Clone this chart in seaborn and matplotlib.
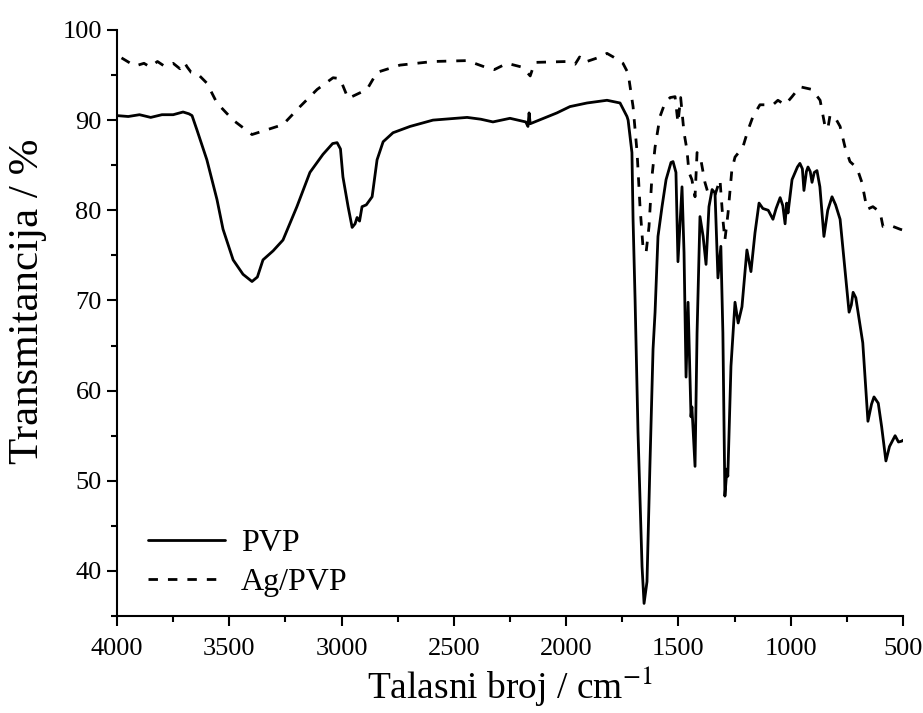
import numpy as np
import pandas as pd
import matplotlib
matplotlib.use("Agg")
import matplotlib.pyplot as plt
from matplotlib.ticker import MultipleLocator
import seaborn as sns

# ---- data ----
pvp_wn = [4000, 3950, 3900, 3850, 3800, 3750, 3706, 3680, 3666, 3644, 3600, 3555, 3528, 3483,
          3439, 3399, 3375, 3350, 3305, 3261, 3199, 3141, 3083, 3040, 3020, 3005, 2994, 2971,
          2953, 2940, 2931, 2920, 2909, 2890, 2864, 2842, 2815, 2771, 2695, 2593, 2441, 2380,
          2326, 2250, 2180, 2170, 2165, 2160, 2100, 2041, 1983, 1907, 1818, 1760, 1729, 1724,
          1707, 1702, 1693, 1680, 1662, 1653, 1640, 1627, 1613, 1604, 1591, 1573, 1555, 1533,
          1524, 1511, 1502, 1484, 1475, 1466, 1457, 1444, 1440, 1426, 1417, 1404, 1390, 1377,
          1364, 1350, 1337, 1324, 1311, 1302, 1293, 1284, 1280, 1266, 1248, 1234, 1217, 1195,
          1177, 1159, 1141, 1124, 1100, 1079, 1065, 1047, 1035, 1025, 1018, 1012, 994, 970,
          959, 948, 941, 930, 923, 913, 905, 895, 883, 870, 852, 835, 816, 800, 780, 758, 740,
          730, 722, 710, 700, 679, 656, 640, 629, 610, 595, 576, 560, 535, 520, 505, 500]
pvp_t = [90.5, 90.4, 90.6, 90.3, 90.6, 90.6, 90.9, 90.7, 90.5, 88.9, 85.6, 81.2, 77.9, 74.5,
         72.9, 72.1, 72.6, 74.5, 75.5, 76.7, 80.4, 84.2, 86.2, 87.4, 87.5, 86.8, 83.7, 80.4,
         78.1, 78.5, 79.2, 78.8, 80.4, 80.6, 81.5, 85.6, 87.6, 88.6, 89.3, 90.0, 90.3, 90.1,
         89.8, 90.2, 89.8, 89.3, 90.8, 89.6, 90.2, 90.8, 91.5, 91.9, 92.2, 91.9, 90.4, 90.0,
         86.4, 79.0, 70.1, 55.4, 40.5, 36.4, 38.8, 51.6, 64.6, 68.7, 77.1, 80.4, 83.4, 85.3,
         85.4, 84.2, 74.3, 82.6, 75.3, 61.5, 69.8, 57.1, 58.2, 51.6, 66.4, 79.3, 77.1, 74.0,
         80.4, 82.3, 81.9, 72.5, 76.0, 66.4, 48.3, 51.3, 50.5, 62.7, 69.8, 67.5, 69.3, 75.6,
         73.2, 77.5, 80.8, 80.2, 80.0, 79.0, 80.2, 81.4, 80.5, 78.5, 80.8, 79.7, 83.4, 84.8,
         85.2, 84.6, 82.2, 84.3, 84.8, 84.3, 83.1, 84.2, 84.4, 82.6, 77.1, 80.0, 81.5, 80.6,
         79.0, 73.4, 68.7, 69.5, 70.9, 70.3, 68.7, 65.3, 56.6, 58.5, 59.3, 58.6, 56.0, 52.2,
         53.8, 55.0, 54.3, 54.4, 54.5]

ag_wn = [3980, 3960, 3920, 3880, 3853, 3820, 3790, 3750, 3720, 3700, 3688, 3670, 3644, 3600,
         3555, 3483, 3399, 3261, 3185, 3109, 3038, 3007, 2971, 2887, 2842, 2740, 2593, 2441,
         2352, 2320, 2263, 2200, 2174, 2160, 2140, 1996, 1960, 1940, 1920, 1849, 1818, 1790,
         1747, 1724, 1702, 1684, 1671, 1658, 1644, 1631, 1618, 1604, 1582, 1560, 1537, 1515,
         1502, 1490, 1475, 1462, 1453, 1440, 1426, 1417, 1400, 1382, 1368, 1337, 1315, 1302,
         1293, 1279, 1262, 1248, 1213, 1190, 1168, 1137, 1079, 1057, 1025, 994, 959, 905, 869,
         847, 835, 825, 807, 780, 758, 736, 705, 683, 660, 634, 602, 589, 544, 513, 500]
ag_t = [96.9, 96.6, 96.0, 96.3, 95.9, 96.5, 96.0, 96.3, 95.7, 96.4, 95.9, 95.3, 95.2, 94.1,
        91.9, 90.0, 88.4, 89.5, 91.5, 93.4, 94.7, 94.6, 92.4, 93.4, 95.3, 96.1, 96.5, 96.6,
        95.8, 95.6, 96.3, 95.9, 95.3, 94.9, 96.4, 96.5, 96.2, 97.0, 96.4, 97.0, 97.4, 97.0,
        96.3, 95.2, 91.5, 86.4, 80.4, 76.0, 75.3, 78.2, 83.7, 87.0, 90.4, 91.9, 92.5, 92.6,
        89.7, 92.5, 88.6, 86.7, 84.2, 83.4, 81.5, 86.4, 85.6, 83.1, 81.9, 81.7, 83.4, 79.0,
        76.7, 79.7, 84.5, 85.9, 87.0, 88.9, 90.4, 91.7, 91.7, 92.2, 91.7, 92.6, 93.7, 93.4,
        92.2, 89.3, 89.0, 90.5, 90.5, 89.3, 87.0, 85.4, 84.7, 83.1, 80.1, 80.4, 79.8, 78.2,
        78.2, 77.9, 77.8]

series_names = ["PVP", "Ag/PVP"]
x_ticks = [4000, 3500, 3000, 2500, 2000, 1500, 1000, 500]
y_ticks = [40, 50, 60, 70, 80, 90, 100]

df = pd.concat([
    pd.DataFrame({"wn": pvp_wn, "T": pvp_t, "sample": series_names[0]}),
    pd.DataFrame({"wn": ag_wn, "T": ag_t, "sample": series_names[1]}),
], ignore_index=True)

sns.set_style("ticks")
plt.rcParams["font.family"] = ["Liberation Serif", "DejaVu Serif"]
plt.rcParams["mathtext.fontset"] = "stix"
plt.rcParams["text.color"] = "black"
plt.rcParams["axes.labelcolor"] = "black"

fig = plt.figure(figsize=(9.23, 7.13), dpi=100)
ax = fig.add_axes([0.1268, 0.136, 0.8515, 0.822])

sns.lineplot(data=df, x="wn", y="T", hue="sample", style="sample",
             hue_order=series_names, style_order=series_names,
             palette=["black", "black"], dashes={"PVP": "", "Ag/PVP": (3.4, 3.6)},
             sort=False, estimator=None, linewidth=2.0, ax=ax, legend=True)

ax.set_xlim(4000, 500)
ax.set_ylim(35, 100)
ax.set_xticks(x_ticks)
ax.set_yticks(y_ticks)
ax.xaxis.set_minor_locator(MultipleLocator(250))
ax.yaxis.set_minor_locator(MultipleLocator(5))
ax.tick_params(which="major", direction="out", length=7, width=1.5, labelsize=19,
               colors="black", labelcolor="black")
ax.tick_params(axis="x", which="major", pad=9)
ax.tick_params(axis="y", which="major", pad=4)
ax.tick_params(which="minor", direction="out", length=4, width=1.5, colors="black")
for s in ["top", "right"]:
    ax.spines[s].set_visible(False)
for s in ["left", "bottom"]:
    ax.spines[s].set_linewidth(1.5)
    ax.spines[s].set_color("black")

ax.set_xlabel("Talasni broj / cm$^{-1}$", fontsize=27, labelpad=3, color="black")
ax.set_ylabel("Transmitancija / %", fontsize=31, color="black")
ax.yaxis.set_label_coords(-0.089, 0.537)

handles, labels = ax.get_legend_handles_labels()
leg = ax.legend(handles, labels, loc="lower left", bbox_to_anchor=(0.04, 0.033),
                frameon=False, fontsize=23, handlelength=2.4, handletextpad=0.5,
                labelspacing=0.3, borderaxespad=0, borderpad=0)
for t in leg.get_texts():
    t.set_color("black")

fig.savefig("out.png", dpi=100)
